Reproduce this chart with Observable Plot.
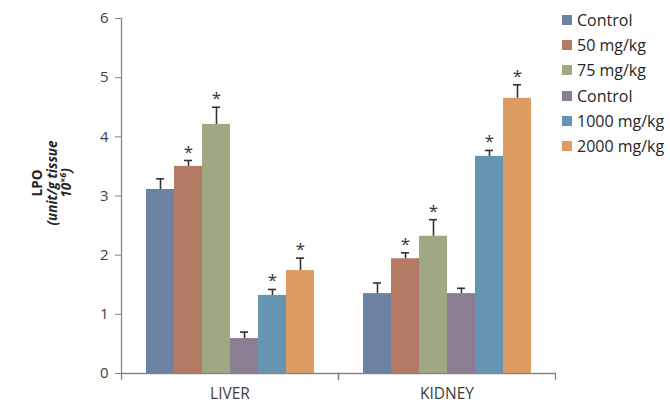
<!DOCTYPE html>
<html>
<head>
<meta charset="utf-8">
<script src="https://cdn.jsdelivr.net/npm/d3@7"></script>
<script src="https://cdn.jsdelivr.net/npm/@observablehq/plot@0.6"></script>
<style>
  html, body { margin: 0; padding: 0; background: #fff; }
  #wrap { position: relative; width: 670px; height: 403px; font-family: "Open Sans", sans-serif; }
  #legend { position: absolute; left: 562px; top: 7px; font-size: 16px; color: #262626; }
  #legend .item { display: flex; align-items: center; height: 25.3px; white-space: nowrap; }
  #legend .sw { width: 10px; height: 10px; margin-right: 5px; }
  #ylabel { position: absolute; left: 52px; top: 183px; transform: translate(-50%, -50%) rotate(-90deg);
            font-size: 13.5px; font-weight: bold; color: #262626; text-align: center; line-height: 14.5px; white-space: nowrap; }
  #ylabel sup { font-size: 9px; line-height: 0; }
</style>
</head>
<body>
<div id="wrap"></div>
<script>
const organs = ["LIVER", "KIDNEY"];
const seriesNames = ["Control", "50 mg/kg", "75 mg/kg", "Control", "1000 mg/kg", "2000 mg/kg"];
const seriesColors = ["#6C81A3", "#B57A63", "#9EA984", "#8B7E93", "#6695B4", "#DC9C61"];
const liverMean = [3.11, 3.50, 4.21, 0.59, 1.32, 1.74];
const liverErr  = [0.18, 0.10, 0.29, 0.11, 0.10, 0.21];
const liverSig  = [false, true, true, false, true, true];
const kidneyMean = [1.35, 1.94, 2.32, 1.35, 3.67, 4.65];
const kidneyErr  = [0.18, 0.10, 0.28, 0.09, 0.10, 0.23];
const kidneySig  = [false, true, true, false, true, true];
const yTicks = [0, 1, 2, 3, 4, 5, 6];

const rows = [];
[[liverMean, liverErr, liverSig], [kidneyMean, kidneyErr, kidneySig]].forEach(([m, e, s], oi) => {
  m.forEach((v, i) => rows.push({organ: organs[oi], key: i, name: seriesNames[i], mean: v, top: v + e[i], sig: s[i]}));
});

const axisGray = "#868686";
const chart = Plot.plot({
  width: 670,
  height: 403,
  marginLeft: 121,
  marginRight: 115,
  marginTop: 18,
  marginBottom: 30,
  style: {fontFamily: "'Open Sans', sans-serif", background: "#fff", color: "#404040"},
  fx: {domain: organs, padding: 0, axis: null, label: null},
  x: {domain: d3.range(seriesNames.length), paddingInner: 0, paddingOuter: 0.75, axis: null, label: null},
  y: {domain: [0, 6], axis: null, label: null},
  color: {domain: d3.range(seriesNames.length), range: seriesColors},
  marks: [
    Plot.barY(rows, {fx: "organ", x: "key", y: "mean", fill: "key"}),
    Plot.ruleX(rows, {fx: "organ", x: "key", y1: "mean", y2: "top", stroke: "#333", strokeWidth: 1.6}),
    Plot.tickY(rows, {fx: "organ", x: "key", y: "top", stroke: "#333", strokeWidth: 1.6, insetLeft: 10, insetRight: 10}),
    Plot.text(rows.filter(d => d.sig), {fx: "organ", x: "key", y: "top", text: () => "*", dy: -3, lineAnchor: "bottom", fontSize: 17, fill: "#333"}),
    Plot.ruleY([0], {stroke: axisGray, strokeWidth: 1.3}),
    Plot.frame({anchor: "left", stroke: axisGray, strokeWidth: 1.3, facetAnchor: "left"}),
    Plot.frame({anchor: "left", stroke: axisGray, strokeWidth: 1.3, insetTop: 355, insetBottom: -6}),
    Plot.frame({anchor: "right", stroke: axisGray, strokeWidth: 1.3, insetTop: 355, insetBottom: -6}),
    Plot.axisY({ticks: yTicks, tickFormat: d3.format("d"), tickSize: 6, tickPadding: 7, fontSize: 15, stroke: axisGray, fill: "#404040", label: null}),
    Plot.axisFx({anchor: "bottom", tickSize: 0, tickPadding: 14, fontSize: 15.5, fill: "#404040", label: null})
  ]
});

const wrap = document.getElementById("wrap");
wrap.appendChild(chart);

const legend = document.createElement("div");
legend.id = "legend";
seriesNames.forEach((n, i) => {
  const it = document.createElement("div");
  it.className = "item";
  const sw = document.createElement("span");
  sw.className = "sw";
  sw.style.background = seriesColors[i];
  const tx = document.createElement("span");
  tx.textContent = n;
  it.appendChild(sw); it.appendChild(tx);
  legend.appendChild(it);
});
wrap.appendChild(legend);

const yl = document.createElement("div");
yl.id = "ylabel";
yl.innerHTML = "<div>LPO</div><div><i>(unit/g tissue</i></div><div><i>10<sup>×6</sup>)</i></div>";
wrap.appendChild(yl);
</script>
</body>
</html>
